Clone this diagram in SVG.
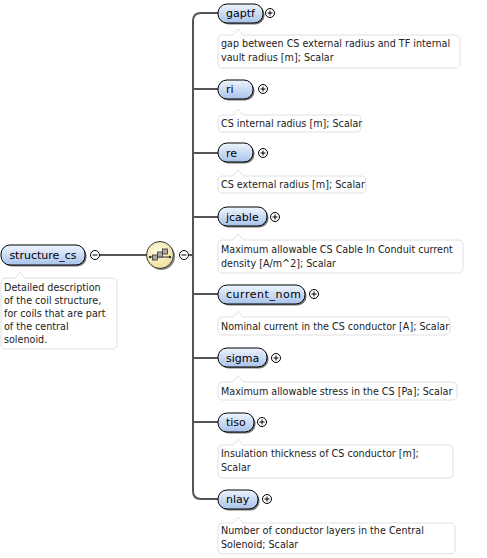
<svg xmlns="http://www.w3.org/2000/svg" width="487" height="558" viewBox="0 0 487 558">
<defs>
<linearGradient id="ng" x1="0" y1="0" x2="0" y2="1">
<stop offset="0" stop-color="#eef4fd"/>
<stop offset="1" stop-color="#a9c3ec"/>
</linearGradient>
<radialGradient id="sg" cx="0.4" cy="0.35" r="0.7">
<stop offset="0" stop-color="#fffbe0"/>
<stop offset="1" stop-color="#ece09a"/>
</radialGradient>
</defs>
<style>
.nb{fill:url(#ng);stroke:#000;stroke-width:1}
.ns{fill:#777}
.nt{font-family:"DejaVu Sans",sans-serif;font-size:11px;fill:#000}
.db{fill:#fff;stroke:#e0e0e0;stroke-width:1}
.dt{font-family:"DejaVu Sans",sans-serif;font-size:9.6px;fill:#222}
.pc{fill:#fff;stroke:#000;stroke-width:1}
.pl{stroke:#000;stroke-width:1;fill:none}
.cn{stroke:#555;stroke-width:2;fill:none}
</style>
<g id="connectors">
<path class="cn" d="M100 255 H147"/>
<path class="cn" d="M189 255 H193"/>
<path class="cn" d="M218 13 H201 Q193 13 193 21 V491 Q193 499 201 499 H218"/>
<path class="cn" d="M193 89 H218 M193 153 H218 M193 217 H218 M193 294 H218 M193 358 H218 M193 422 H218"/>
</g>
<g id="structure_cs">
<rect class="ns" x="2.5" y="246.5" width="84" height="20" rx="9"/>
<rect class="nb" x="1" y="245" width="84" height="20" rx="9"/>
<text class="nt" x="43" y="259" text-anchor="middle">structure_cs</text>
<circle class="pc" cx="95" cy="255" r="4.5"/>
<path class="pl" d="M92.5 255 H97.5"/>
<path class="db" d="M6 278 L15 278 L20 272 L25 278 L112 278 Q117 278 117 283 L117 344 Q117 349 112 349 L6 349 Q1 349 1 344 L1 283 Q1 278 6 278 Z"/>
<text class="dt" x="4"><tspan x="4" y="291">Detailed description</tspan><tspan x="4" y="304">of the coil structure,</tspan><tspan x="4" y="317">for coils that are part</tspan><tspan x="4" y="330">of the central</tspan><tspan x="4" y="343">solenoid.</tspan></text>
</g>
<g id="sequence">
<circle cx="161.5" cy="256.5" r="13.5" fill="#888"/>
<circle cx="160" cy="255" r="13.5" fill="url(#sg)" stroke="#333" stroke-width="1"/>
<path d="M150 257 H170" stroke="#333" stroke-width="1"/>
<circle cx="150" cy="257" r="1.2" fill="#333"/>
<circle cx="170" cy="257" r="1.2" fill="#333"/>
<rect x="152.5" y="255" width="5" height="5" fill="#aaa" stroke="#333" stroke-width="0.8"/>
<rect x="157.5" y="252" width="5" height="5" fill="#aaa" stroke="#333" stroke-width="0.8"/>
<rect x="162.5" y="249" width="5" height="5" fill="#aaa" stroke="#333" stroke-width="0.8"/>
<circle class="pc" cx="184" cy="255" r="4.5"/>
<path class="pl" d="M181.5 255 H186.5"/>
</g>
<g id="gaptf">
<rect class="ns" x="219.5" y="5.5" width="45" height="19" rx="9"/>
<rect class="nb" x="218" y="4" width="45" height="19" rx="9"/>
<text class="nt" x="226" y="17">gaptf</text>
<circle class="pc" cx="270" cy="13" r="4.5"/>
<path class="pl" d="M267.5 13 H272.5 M270 10.5 V15.5"/>
<path class="db" d="M223 35 L233 35 L238 29 L243 35 L455 35 Q460 35 460 40 L460 63 Q460 68 455 68 L223 68 Q218 68 218 63 L218 40 Q218 35 223 35 Z"/>
<text class="dt"><tspan x="221" y="47">gap between CS external radius and TF internal</tspan><tspan x="221" y="61">vault radius [m]; Scalar</tspan></text>
</g>
<g id="ri">
<rect class="ns" x="219.5" y="81.5" width="35" height="19" rx="9"/>
<rect class="nb" x="218" y="80" width="35" height="19" rx="9"/>
<text class="nt" x="226" y="93">ri</text>
<circle class="pc" cx="263" cy="89" r="4.5"/>
<path class="pl" d="M260.5 89 H265.5 M263 86.5 V91.5"/>
<path class="db" d="M223 115 L233 115 L238 109 L243 115 L356 115 Q361 115 361 120 L361 127 Q361 132 356 132 L223 132 Q218 132 218 127 L218 120 Q218 115 223 115 Z"/>
<text class="dt" x="221" y="127">CS internal radius [m]; Scalar</text>
</g>
<g id="re">
<rect class="ns" x="219.5" y="144.5" width="35" height="19" rx="9"/>
<rect class="nb" x="218" y="143" width="35" height="19" rx="9"/>
<text class="nt" x="226" y="157">re</text>
<circle class="pc" cx="263" cy="153" r="4.5"/>
<path class="pl" d="M260.5 153 H265.5 M263 150.5 V155.5"/>
<path class="db" d="M223 176 L233 176 L238 170 L243 176 L361 176 Q366 176 366 181 L366 188 Q366 193 361 193 L223 193 Q218 193 218 188 L218 181 Q218 176 223 176 Z"/>
<text class="dt" x="221" y="188">CS external radius [m]; Scalar</text>
</g>
<g id="jcable">
<rect class="ns" x="219.5" y="208.5" width="49" height="19" rx="9"/>
<rect class="nb" x="218" y="207" width="49" height="19" rx="9"/>
<text class="nt" x="226" y="221">jcable</text>
<circle class="pc" cx="275" cy="217" r="4.5"/>
<path class="pl" d="M272.5 217 H277.5 M275 214.5 V219.5"/>
<path class="db" d="M223 240 L233 240 L238 234 L243 240 L458 240 Q463 240 463 245 L463 268 Q463 273 458 273 L223 273 Q218 273 218 268 L218 245 Q218 240 223 240 Z"/>
<text class="dt"><tspan x="221" y="253">Maximum allowable CS Cable In Conduit current</tspan><tspan x="221" y="267">density [A/m^2]; Scalar</tspan></text>
</g>
<g id="current_nom">
<rect class="ns" x="219.5" y="286.5" width="87" height="19" rx="9"/>
<rect class="nb" x="218" y="285" width="87" height="19" rx="9"/>
<text class="nt" x="226" y="298" textLength="75">current_nom</text>
<circle class="pc" cx="314" cy="294" r="4.5"/>
<path class="pl" d="M311.5 294 H316.5 M314 291.5 V296.5"/>
<path class="db" d="M223 317 L233 317 L238 311 L243 317 L445 317 Q450 317 450 322 L450 330 Q450 335 445 335 L223 335 Q218 335 218 330 L218 322 Q218 317 223 317 Z"/>
<text class="dt" x="221" y="330">Nominal current in the CS conductor [A]; Scalar</text>
</g>
<g id="sigma">
<rect class="ns" x="219.5" y="349.5" width="49" height="19" rx="9"/>
<rect class="nb" x="218" y="348" width="49" height="19" rx="9"/>
<text class="nt" x="226" y="362">sigma</text>
<circle class="pc" cx="276" cy="358" r="4.5"/>
<path class="pl" d="M273.5 358 H278.5 M276 355.5 V360.5"/>
<path class="db" d="M223 382 L233 382 L238 376 L243 382 L452 382 Q457 382 457 387 L457 395 Q457 400 452 400 L223 400 Q218 400 218 395 L218 387 Q218 382 223 382 Z"/>
<text class="dt" x="221" y="395">Maximum allowable stress in the CS [Pa]; Scalar</text>
</g>
<g id="tiso">
<rect class="ns" x="219.5" y="414.5" width="36" height="19" rx="9"/>
<rect class="nb" x="218" y="413" width="36" height="19" rx="9"/>
<text class="nt" x="226" y="426">tiso</text>
<circle class="pc" cx="262" cy="422" r="4.5"/>
<path class="pl" d="M259.5 422 H264.5 M262 419.5 V424.5"/>
<path class="db" d="M223 445 L233 445 L238 439 L243 445 L448 445 Q453 445 453 450 L453 473 Q453 478 448 478 L223 478 Q218 478 218 473 L218 450 Q218 445 223 445 Z"/>
<text class="dt"><tspan x="221" y="457">Insulation thickness of CS conductor [m];</tspan><tspan x="221" y="471">Scalar</tspan></text>
</g>
<g id="nlay">
<rect class="ns" x="219.5" y="491.5" width="40" height="19" rx="9"/>
<rect class="nb" x="218" y="490" width="40" height="19" rx="9"/>
<text class="nt" x="226" y="503">nlay</text>
<circle class="pc" cx="267" cy="499" r="4.5"/>
<path class="pl" d="M264.5 499 H269.5 M267 496.5 V501.5"/>
<path class="db" d="M223 523 L233 523 L238 517 L243 523 L450 523 Q455 523 455 528 L455 549 Q455 554 450 554 L223 554 Q218 554 218 549 L218 528 Q218 523 223 523 Z"/>
<text class="dt"><tspan x="221" y="534">Number of conductor layers in the Central</tspan><tspan x="221" y="548">Solenoid; Scalar</tspan></text>
</g>
</svg>
